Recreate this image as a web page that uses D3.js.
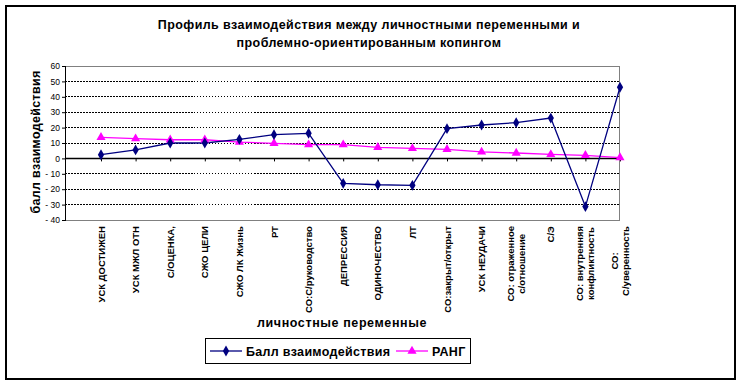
<!DOCTYPE html>
<html>
<head>
<meta charset="utf-8">
<script src="https://cdn.jsdelivr.net/npm/d3@7"></script>
<style>
  body { margin: 0; background: #fff; }
  text { font-family: "Liberation Sans", Arial, sans-serif; }
</style>
</head>
<body>
<script>
// categories (line breaks where the original labels wrap)
const categories = [
  "УСК ДОСТИЖЕН", "УСК МЖЛ  ОТН", "С/ОЦЕНКА,", "СЖО ЦЕЛИ", "СЖО ЛК Жизнь", "РТ",
  "СО:С/руководство", "ДЕПРЕССИЯ", "ОДИНОЧЕСТВО", "ЛТ", "СО:закрыт/открыт",
  "УСК НЕУДАЧИ", "СО: отраженное\nс/отношение", "С/Э", "СО: внутренняя\nконфликтность",
  "СО:\nС/уверенность"
];
const score = [2.4, 5.5, 10, 10, 12.4, 15.4, 16.3, -16.2, -17.1, -17.5, 19.3, 21.7, 23.2, 26.2, -31.3, 46.2];
const rank = [13.7, 12.8, 12.1, 12.1, 10.6, 9.8, 8.9, 8.9, 7.2, 6.5, 5.9, 4.2, 3.5, 2.6, 2, 0.5];
const yTicks = [60, 50, 40, 30, 20, 10, 0, -10, -20, -30, -40];
const seriesNames = ["Балл взаимодействия", "РАНГ"];

const W = 741, H = 385;
const plot = {left: 65, right: 619, top: 66, bottom: 220};

var svg = d3.select("body").append("svg")
    .attr("width", W)
    .attr("height", H);

// outer frame
svg.append("rect")
    .attr("x", 6).attr("y", 6)
    .attr("width", 729).attr("height", 373)
    .attr("fill", "#fff")
    .attr("stroke", "#000")
    .attr("stroke-width", 2);

// title
var title = svg.append("text")
    .attr("text-anchor", "middle")
    .attr("font-size", 12.5)
    .attr("font-weight", "bold")
    .attr("letter-spacing", 0.4);
title.append("tspan").attr("x", 369).attr("y", 29)
    .text("Профиль взаимодействия между личностными переменными и");
title.append("tspan").attr("x", 369).attr("y", 47)
    .text("проблемно-ориентированным копингом");

var y = d3.scaleLinear().domain([-40, 60]).range([plot.bottom, plot.top]);
var x = d3.scalePoint().domain(categories).range([101, 620]);

// gridlines (dotted)
svg.append("g").selectAll("line")
    .data(yTicks.filter(d => d > -40 && d < 60 && d !== 0))
    .enter().append("line")
    .attr("x1", plot.left).attr("x2", plot.right)
    .attr("y1", d => y(d)).attr("y2", d => y(d))
    .attr("stroke", "#000")
    .attr("stroke-width", 1)
    .attr("stroke-dasharray", "1.5,1.5")
    .attr("shape-rendering", "crispEdges");

// plot border
svg.append("rect")
    .attr("x", plot.left).attr("y", plot.top)
    .attr("width", plot.right - plot.left).attr("height", plot.bottom - plot.top)
    .attr("fill", "none")
    .attr("stroke", "#808080")
    .attr("shape-rendering", "crispEdges");

// y axis
var yAxis = svg.append("g")
    .attr("transform", "translate(" + plot.left + ",0)")
    .call(d3.axisLeft(y).tickValues(yTicks).tickSize(3).tickPadding(2)
      .tickFormat(d => d < 0 ? "- " + Math.abs(d) : d));
yAxis.select(".domain").attr("stroke", "#000").attr("shape-rendering", "crispEdges");
yAxis.selectAll(".tick line").attr("stroke", "#000");
yAxis.selectAll("text")
    .attr("font-size", 8.5)
    .attr("fill", "#000")
    .style("font-family", "Liberation Sans, Arial, sans-serif");

// category axis at zero
var xAxis = svg.append("g")
    .attr("transform", "translate(0," + y(0) + ")")
    .call(d3.axisBottom(x).tickSize(3).tickFormat(""));
xAxis.select(".domain").remove();
xAxis.selectAll(".tick line").attr("stroke", "#000");
svg.append("line")
    .attr("x1", plot.left).attr("x2", plot.right)
    .attr("y1", y(0)).attr("y2", y(0))
    .attr("stroke", "#000")
    .attr("stroke-width", 1.5);

// category labels, rotated, hanging under the plot
var labTop = 226;
categories.forEach(function (c) {
  var lines = c.split("\n");
  var g = svg.append("g")
      .attr("transform", "translate(" + x(c) + "," + labTop + ") rotate(-90)");
  var t = g.append("text")
      .attr("font-size", 9.5)
      .attr("font-weight", "bold")
      .attr("text-anchor", "middle");
  var lh = 11;
  lines.forEach(function (l, i) {
    t.append("tspan")
      .attr("x", 0)
      .attr("y", (i - (lines.length - 1) / 2) * lh + 3.5)
      .text(l);
  });
  var w = t.node().getBBox().width;
  t.attr("transform", "translate(" + (-w / 2) + ",0)");
});

// series
var line = d3.line()
    .x((d, i) => x(categories[i]))
    .y(d => y(d));

svg.append("path").datum(rank)
    .attr("d", line)
    .attr("fill", "none")
    .attr("stroke", "#ff00ff")
    .attr("stroke-width", 1.3);
svg.append("path").datum(score)
    .attr("d", line)
    .attr("fill", "none")
    .attr("stroke", "#000080")
    .attr("stroke-width", 1.3);

var tri = d3.symbol().type(d3.symbolTriangle).size(36);
var dia = d3.symbol().type(d3.symbolDiamond).size(34);

svg.append("g").selectAll("path")
    .data(rank).enter().append("path")
    .attr("d", tri)
    .attr("transform", (d, i) => "translate(" + x(categories[i]) + "," + y(d) + ")")
    .attr("fill", "#ff00ff");
svg.append("g").selectAll("path")
    .data(score).enter().append("path")
    .attr("d", dia)
    .attr("transform", (d, i) => "translate(" + x(categories[i]) + "," + y(d) + ")")
    .attr("fill", "#000080");

// axis titles
svg.append("text")
    .attr("transform", "translate(40,142) rotate(-90)")
    .attr("text-anchor", "middle")
    .attr("font-size", 12.5)
    .attr("font-weight", "bold")
    .attr("letter-spacing", 0.3)
    .text("балл взаимодействия");
svg.append("text")
    .attr("x", 342).attr("y", 327)
    .attr("text-anchor", "middle")
    .attr("font-size", 12.5)
    .attr("font-weight", "bold")
    .attr("letter-spacing", 0.6)
    .text("личностные переменные");

// legend
var leg = svg.append("g");
leg.append("rect")
    .attr("x", 205).attr("y", 338)
    .attr("width", 265).attr("height", 25)
    .attr("fill", "#fff")
    .attr("stroke", "#000")
    .attr("shape-rendering", "crispEdges");
var legItems = [
  {name: seriesNames[0], color: "#000080", sym: dia, x: 210},
  {name: seriesNames[1], color: "#ff00ff", sym: tri, x: 396}
];
legItems.forEach(function (it) {
  leg.append("line")
    .attr("x1", it.x).attr("x2", it.x + 32)
    .attr("y1", 351).attr("y2", 351)
    .attr("stroke", it.color).attr("stroke-width", 1.3);
  leg.append("path")
    .attr("d", it.sym)
    .attr("transform", "translate(" + (it.x + 16) + ",351)")
    .attr("fill", it.color);
  leg.append("text")
    .attr("x", it.x + 36).attr("y", 355.5)
    .attr("font-size", 12.5)
    .attr("font-weight", "bold")
    .attr("letter-spacing", 0.3)
    .text(it.name);
});
</script>
</body>
</html>
